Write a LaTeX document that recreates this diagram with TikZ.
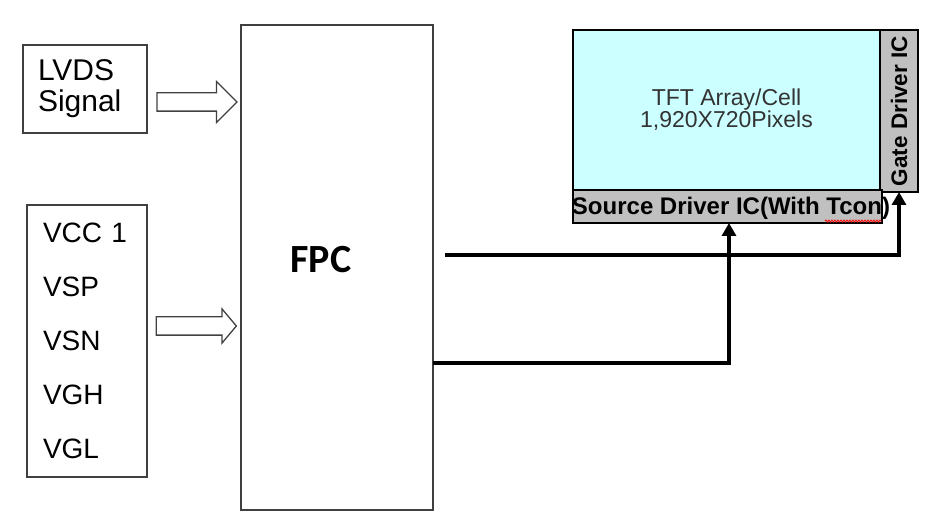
\documentclass[tikz,border=0pt]{standalone}
\usepackage{fontspec}
\setmainfont{Liberation Sans}
\newfontfamily\calibri{Carlito}
\usetikzlibrary{arrows.meta, shapes.arrows, decorations.pathmorphing}
\definecolor{cellcyan}{HTML}{CCFFFF}
\definecolor{icgray}{HTML}{C0C0C0}
\definecolor{boxline}{HTML}{404040}
\definecolor{celltext}{HTML}{333333}

\begin{document}
\begin{tikzpicture}[x=1pt,y=-1pt,
  inbox/.style={draw=boxline, line width=1.3pt, inner sep=0pt, outer sep=0pt},
  ic/.style={draw=black, line width=2.2pt, fill=icgray, inner sep=0pt, outer sep=0pt},
  fatarrow/.style={single arrow, draw=boxline, line width=1.3pt, inner xsep=0pt, inner ysep=8.5pt,
    outer sep=0pt, minimum height=80, single arrow head extend=11.5, single arrow tip angle=90},
  bus/.style={line width=3.2pt, -{Triangle[length=13pt,width=14pt]}}]
\useasboundingbox (0,0) rectangle (938,513);
% input blocks
\node[inbox, minimum width=124, minimum height=88, text width=94, align=left,
  font=\fontsize{30}{31}\selectfont] (lvds) at (85,89) {LVDS\\Signal};
\node[inbox, minimum width=120, minimum height=272, text width=88, align=left,
  font=\fontsize{28}{54}\selectfont] (pwr) at (87,341) {VCC 1\\VSP\\VSN\\VGH\\VGL};
\node[fatarrow] (lvdsarrow) at (192.5,102) {};
\node[fatarrow, single arrow head extend=8, single arrow tip angle=100] (pwrarrow) at (192.5,326) {};
% FPC
\node[inbox, minimum width=192, minimum height=485] (fpc) at (337,267.5) {};
\node[font=\calibri\bfseries\fontsize{40}{40}\selectfont] (fpclabel) at (321,260) {FPC};
% panel
\node[draw=black, line width=2.2pt, fill=cellcyan, minimum width=307, minimum height=160,
  inner sep=0pt, outer sep=0pt, align=center, text=celltext,
  font=\fontsize{23}{22}\selectfont] (cell) at (726.5,110) {TFT Array/Cell\\1,920X720Pixels};
\node[ic, minimum width=38, minimum height=162, anchor=north west] (gate) at (880,30) {};
\node[rotate=90, font=\bfseries\fontsize{22.5}{22.5}\selectfont] (gatelabel) at (gate.center) {Gate Driver IC};
\node[ic, minimum width=309, minimum height=33, anchor=north west] (src) at (573,190) {};
\node[font=\bfseries\fontsize{24}{24}\selectfont] (srclabel) at (731,208) {Source Driver IC(With Tcon)};
\draw[red, line width=0.8pt, decorate, decoration={snake, amplitude=1pt, segment length=3pt}]
  (825,221) -- (882,221);
% connectors
\coordinate (gatestart) at (445,255);
\draw[bus] (gatestart) -| (gate.south);
\draw[bus] (fpc.east |- 0,363) -| ([xshift=1.5pt]src.south);
\end{tikzpicture}
\end{document}
